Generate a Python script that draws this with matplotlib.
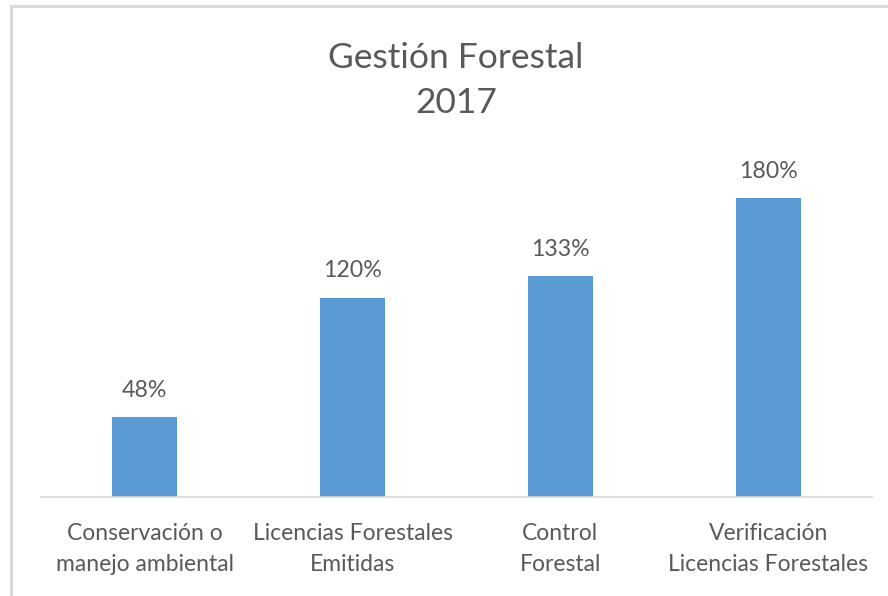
import matplotlib.pyplot as plt
from matplotlib.lines import Line2D

categories = ["Conservación o\nmanejo ambiental", "Licencias Forestales\nEmitidas",
              "Control\nForestal", "Verificación\nLicencias Forestales"]
values = [0.48, 1.20, 1.33, 1.80]
labels = ["48%", "120%", "133%", "180%"]

bar_color = "#5B9BD5"
text_color = "#595959"
plt.rcParams['font.family'] = ['Lato', 'DejaVu Sans']

W, H = 888, 596
fig = plt.figure(figsize=(W / 100, H / 100), dpi=100)
ax = fig.add_axes([41 / W, 99 / H, 831 / W, 332 / H])

x = range(len(categories))
bars = ax.bar(x, values, width=0.313, color=bar_color)
ax.set_xlim(-0.5, len(categories) - 0.5)
ax.set_ylim(0, 2.0)

for b, lab in zip(bars, labels):
    ax.annotate(lab, (b.get_x() + b.get_width() / 2, b.get_height()),
                xytext=(0, 27), textcoords="offset pixels",
                ha="center", va="center", fontsize=16.7, color=text_color)

ax.set_xticks(list(x))
ax.set_xticklabels(categories, fontsize=16.5, color=text_color, linespacing=1.58)
ax.tick_params(axis="x", length=0, pad=19)
ax.set_yticks([])
for s in ["top", "right", "left"]:
    ax.spines[s].set_visible(False)
ax.spines["bottom"].set_color("#D9D9D9")
ax.spines["bottom"].set_linewidth(1.2)

fig.text(456 / W, 1 - 80.5 / H, "Gestión Forestal\n2017", ha="center", va="center",
         fontsize=25.5, color=text_color, linespacing=1.53)

# chart-area border (only top and left edges are visible in the crop)
fig.add_artist(Line2D([11 / W, 1], [1 - 6 / H, 1 - 6 / H], color="#D9D9D9", lw=2.2))
fig.add_artist(Line2D([11 / W, 11 / W], [0, 1 - 6 / H], color="#D9D9D9", lw=2.2))

fig.savefig("out.png", dpi=100)
